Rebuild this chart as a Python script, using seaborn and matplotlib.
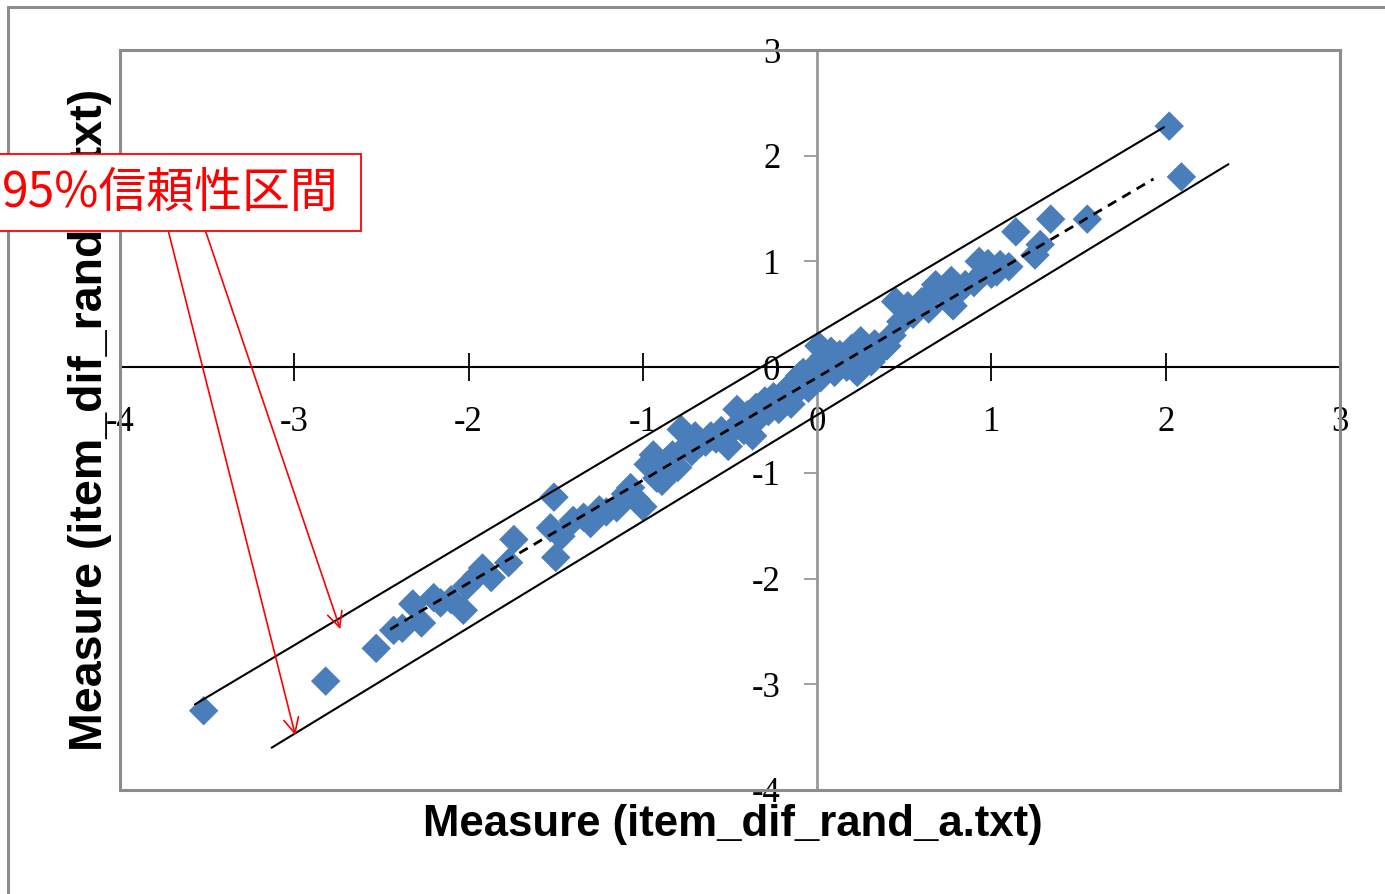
import matplotlib
matplotlib.use("Agg")
import matplotlib.pyplot as plt
from matplotlib.patches import Rectangle
from matplotlib.lines import Line2D
import seaborn as sns
import pandas as pd

# ---------------- data ----------------
measure_a = [
    -3.52, -2.82, -2.53, -2.43, -2.38, -2.32, -2.27, -2.20, -2.16, -2.03,
    -2.01, -1.92, -1.87, -1.77, -1.74, -1.51, -1.53, -1.47, -1.50, -1.34,
    -1.30, -1.21, -1.15, -1.07, -1.04, -1.00, -0.94, -0.90, -0.89, -0.85,
    -0.83, -0.78, -0.75, -0.70, -0.64, -0.61, -0.55, -0.51, -0.46, -0.42,
    -0.37, -0.33, -0.30, -0.25, -0.22, -0.18, -0.15, -0.12, -0.08, -0.05,
    -0.02, 0.01, 0.02, 0.06, 0.10, 0.13, 0.17, 0.20, 0.23, 0.25,
    0.28, 0.33, 0.36, 0.43, 0.45, 0.48, 0.52, 0.63, 0.64, 0.68,
    0.77, 0.78, 0.80, 0.90, 0.93, 0.96, 1.00, 1.05, 1.10, 1.14,
    1.25, 1.28, 1.34, 1.55, 2.02, 2.09,
    -0.97, -0.92, -0.87, -0.80, -0.72, -0.67, -0.58, -0.50, -0.44, -0.40,
    -0.35, -0.28, -0.20, -0.13, -0.10, -0.03, 0.04, 0.08, 0.15, 0.19,
    0.27, 0.31, 0.40, 0.55, 0.60, 0.72, 0.85, 0.98, 1.03, -1.10,
    -1.25, -1.40, -2.10, -1.95,
]
measure_b = [
    -3.25, -2.97, -2.66, -2.49, -2.47, -2.24, -2.42, -2.18, -2.23, -2.30,
    -2.07, -1.90, -1.99, -1.85, -1.63, -1.23, -1.52, -1.60, -1.80, -1.42,
    -1.48, -1.37, -1.33, -1.14, -1.25, -1.32, -0.83, -0.98, -1.08, -1.00,
    -0.83, -0.59, -0.75, -0.65, -0.71, -0.65, -0.60, -0.75, -0.40, -0.60,
    -0.65, -0.47, -0.32, -0.28, -0.40, -0.22, -0.35, -0.15, -0.05, -0.20,
    0.00, 0.20, -0.10, 0.05, -0.05, 0.12, 0.00, 0.18, -0.05, 0.25,
    0.10, 0.22, 0.15, 0.30, 0.62, 0.43, 0.58, 0.65, 0.55, 0.78,
    0.82, 0.58, 0.70, 0.80, 1.00, 0.90, 0.88, 0.97, 0.95, 1.28,
    1.06, 1.16, 1.40, 1.40, 2.28, 1.80,
    -0.92, -1.05, -0.90, -0.95, -0.80, -0.72, -0.68, -0.62, -0.52, -0.45,
    -0.38, -0.42, -0.30, -0.25, -0.08, -0.12, 0.10, 0.15, 0.08, 0.05,
    0.20, 0.05, 0.20, 0.50, 0.62, 0.70, 0.78, 0.98, 0.90, -1.20,
    -1.35, -1.45, -2.20, -1.97,
]

upper_ci_x = [-3.57, 1.99]
upper_ci_y = [-3.19, 2.27]
lower_ci_x = [-3.13, 2.36]
lower_ci_y = [-3.60, 1.92]
trend_x = [-2.45, 1.93]
trend_y = [-2.48, 1.78]

tick_values = [-4, -3, -2, -1, 0, 1, 2, 3]
tick_labels = ["-4", "-3", "-2", "-1", "0", "1", "2", "3"]

x_label = "Measure (item_dif_rand_a.txt)"
y_label = "Measure (item_dif_rand_b.txt)"
callout_text = "95%信頼性区間"
# arrow (start, end) in data units
arrow_starts = [(-3.724, 1.296), (-3.511, 1.296)]
arrow_ends = [(-2.994, -3.482), (-2.736, -2.479)]

# ---------------- style ----------------
sns.set_style("white")
plt.rcParams["font.family"] = ["Liberation Sans", "DejaVu Sans"]
plt.rcParams["axes.unicode_minus"] = False

W, H = 1385, 894
fig = plt.figure(figsize=(W / 100, H / 100), dpi=100)
fig.patch.set_facecolor("white")
ax = fig.add_axes([120 / W, 1 - 790 / H, 1220 / W, 740 / H])

df = pd.DataFrame({"a": measure_a, "b": measure_b})
sns.scatterplot(data=df, x="a", y="b", marker="D", s=225, color="#4A7EBB",
                edgecolor="none", linewidth=0, ax=ax, zorder=3)

sns.lineplot(x=upper_ci_x, y=upper_ci_y, color="black", linewidth=1.5,
             sort=False, estimator=None, ax=ax, zorder=4)
sns.lineplot(x=lower_ci_x, y=lower_ci_y, color="black", linewidth=1.5,
             sort=False, estimator=None, ax=ax, zorder=4)
sns.lineplot(x=trend_x, y=trend_y, color="black", linewidth=2.0,
             sort=False, estimator=None, ax=ax, zorder=4, dashes=False)
ax.lines[-1].set_dashes([3.5, 2.5])

ax.set_xlim(-4, 3)
ax.set_ylim(-4, 3)

# axes crossing at origin
ax.spines["left"].set_position(("data", 0))
ax.spines["bottom"].set_position(("data", 0))
ax.spines["left"].set_color("#999999")
ax.spines["left"].set_linewidth(2.0)
ax.spines["bottom"].set_color("black")
ax.spines["bottom"].set_linewidth(1.5)
ax.spines["top"].set_visible(False)
ax.spines["right"].set_visible(False)

ax.set_xticks(tick_values)
ax.set_xticklabels(tick_labels)
ax.set_yticks(tick_values)
ax.set_yticklabels(tick_labels)
ax.tick_params(axis="x", direction="inout", length=19.5, width=1.3,
               color="black", pad=18, labelsize=25, bottom=True)
ax.tick_params(axis="y", direction="out", length=9.5, width=1.3,
               color="#999999", pad=17, labelsize=25, left=True)
for lab in ax.get_xticklabels() + ax.get_yticklabels():
    lab.set_family("Liberation Serif")
    lab.set_color("black")

# plot area border
ax.add_patch(Rectangle((0, 0), 1, 1, transform=ax.transAxes, fill=False,
                       edgecolor="#8c8c8c", linewidth=2.2, clip_on=False, zorder=5))

ax.set_xlabel(x_label, fontsize=31.5, fontweight="bold", color="black")
ax.xaxis.set_label_coords(0.502, -0.047)
ax.xaxis.label.set_va("center")
ax.set_ylabel(y_label, fontsize=33.5, fontweight="bold", color="black")
ax.yaxis.set_label_coords(-0.0246, 0.5)
ax.yaxis.label.set_va("center")

# arrows of the callout
for (sx, sy), (ex, ey) in zip(arrow_starts, arrow_ends):
    ax.annotate("", xy=(ex, ey), xytext=(sx, sy),
                arrowprops=dict(arrowstyle="->,head_length=0.55,head_width=0.27",
                                color="#FF0000", lw=1.2, mutation_scale=20,
                                shrinkA=0, shrinkB=0),
                zorder=6)

# callout box (figure level, above y label)
box = Rectangle((-2 / W, 1 - 231 / H), 363 / W, 77 / H, transform=fig.transFigure,
                facecolor="white", edgecolor="#FF0000", linewidth=1.3, zorder=10)
fig.add_artist(box)
fig.text(2 / W, 1 - 193 / H, callout_text, color="#FF0000", fontsize=34.5,
         family=["Noto Sans CJK JP", "DejaVu Sans"], va="center", ha="left", zorder=11)

# outer chart border
fig.add_artist(Line2D([8 / W, 8 / W], [0, 1 - 7 / H], transform=fig.transFigure,
                      color="#8c8c8c", linewidth=2.2))
fig.add_artist(Line2D([8 / W, 1.0], [1 - 7 / H, 1 - 7 / H], transform=fig.transFigure,
                      color="#8c8c8c", linewidth=2.2))

fig.savefig("out.png", dpi=100)
